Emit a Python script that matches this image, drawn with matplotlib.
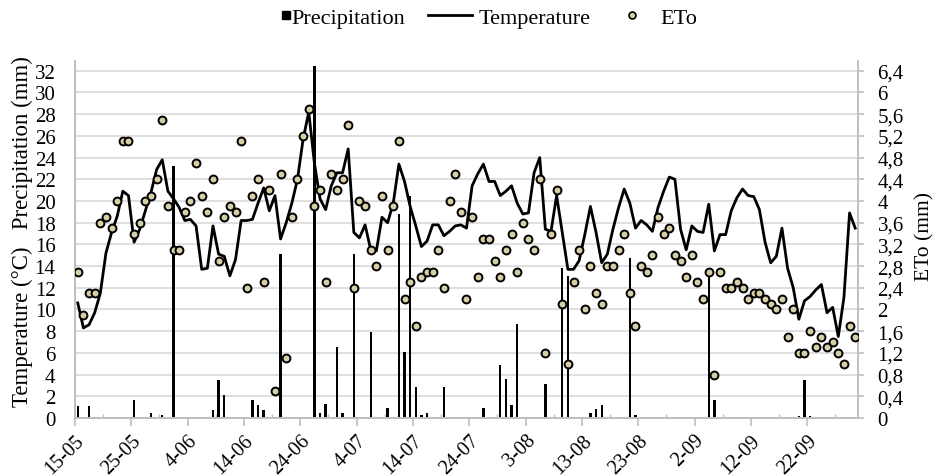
import numpy as np
import matplotlib
matplotlib.use('Agg')
import matplotlib.pyplot as plt
from matplotlib.lines import Line2D

plt.rcParams['font.family'] = ['Liberation Serif', 'DejaVu Serif']

# daily values, 15-05 .. 30-09
temperature = [
    10.6, 8.3, 8.6, 9.7, 11.5, 15.2, 17.1, 18.6, 20.9, 20.5,
    16.2, 17.4, 19.1, 20.8, 22.9, 23.8, 20.9, 20.2, 19.4, 18.2,
    18.3, 17.7, 13.7, 13.8, 17.7, 15.1, 14.9, 13.1, 14.6, 18.2,
    18.2, 18.3, 19.8, 21.2, 19.1, 20.5, 16.5, 18.0, 19.8, 22.0,
    25.7, 28.2, 23.5, 20.2, 19.2, 21.4, 22.6, 22.6, 24.8, 17.1,
    16.6, 17.8, 15.5, 15.4, 18.5, 18.0, 19.8, 23.4, 21.8, 19.5,
    17.7, 15.8, 16.3, 17.8, 17.8, 16.8, 17.2, 17.7, 17.8, 17.5,
    21.4, 22.5, 23.4, 21.8, 21.8, 20.5, 20.9, 21.4, 19.8, 18.8,
    18.9, 22.6, 24.0, 17.4, 17.2, 20.5, 17.1, 13.7, 13.7, 14.5,
    16.9, 19.5, 17.1, 14.3, 15.1, 17.4, 19.4, 21.1, 19.8, 17.5,
    18.2, 17.8, 17.2, 19.4, 20.9, 22.2, 22.0, 17.4, 15.5, 17.7,
    17.2, 17.1, 19.7, 15.4, 16.9, 16.9, 19.1, 20.3, 21.1, 20.5,
    20.4, 19.2, 16.2, 14.3, 14.9, 17.5, 13.8, 12.0, 9.1, 10.8,
    11.2, 11.8, 12.3, 9.7, 10.2, 7.5, 11.1, 18.9, 17.5]

eto = [
    2.7, 1.9, 2.3, 2.3, 3.6, 3.7, 3.5, 4.0, 5.1, 5.1,
    3.4, 3.6, 4.0, 4.1, 4.4, 5.5, 3.9, 3.1, 3.1, 3.8,
    4.0, 4.7, 4.1, 3.8, 4.4, 2.9, 3.7, 3.9, 3.8, 5.1,
    2.4, 4.1, 4.4, 2.5, 4.2, 0.5, 4.5, 1.1, 3.7, 4.4,
    5.2, 5.7, 3.9, 4.2, 2.5, 4.5, 4.2, 4.4, 5.4, 2.4,
    4.0, 3.9, 3.1, 2.8, 4.1, 3.1, 3.9, 5.1, 2.2, 2.5,
    1.7, 2.6, 2.7, 2.7, 3.1, 2.4, 4.0, 4.5, 3.8, 2.2,
    3.7, 2.6, 3.3, 3.3, 2.9, 2.6, 3.1, 3.4, 2.7, 3.6,
    3.3, 3.1, 4.4, 1.2, 3.4, 4.2, 2.1, 1.0, 2.5, 3.1,
    2.0, 2.8, 2.3, 2.1, 2.8, 2.8, 3.1, 3.4, 2.3, 1.7,
    2.8, 2.7, 3.0, 3.7, 3.4, 3.5, 3.0, 2.9, 2.6, 3.0,
    2.5, 2.2, 2.7, 0.8, 2.7, 2.4, 2.4, 2.5, 2.4, 2.2,
    2.3, 2.3, 2.2, 2.1, 2.0, 2.2, 1.5, 2.0, 1.2, 1.2,
    1.6, 1.3, 1.5, 1.3, 1.4, 1.2, 1.0, 1.7, 1.5]

# rainy days (day index from 15-05) and amount in mm
rain_day = [0, 2, 3, 10, 11, 13, 15, 17, 24, 25, 26, 31, 32, 33, 36, 42, 43, 44,
            46, 47, 49, 52, 53, 55, 57, 58, 59, 60, 61, 62, 63, 65, 72, 75, 76,
            77, 78, 81, 83, 86, 87, 91, 92, 93, 98, 99, 112, 113, 118, 123, 128,
            129, 130, 134]
rain_mm = [1.1, 1.1, 0.1, 1.7, 0.1, 0.5, 0.3, 23.2, 0.7, 3.5, 2.1, 1.7, 1.2, 0.7,
           15.1, 32.4, 0.5, 1.3, 6.5, 0.5, 15.1, 7.9, 0.1, 0.9, 18.8, 6.1, 20.5,
           2.9, 0.3, 0.5, 0.1, 2.9, 0.9, 4.9, 3.6, 1.2, 8.7, 0.1, 3.1, 13.8, 13.1,
           0.5, 0.8, 1.2, 14.7, 0.3, 13.4, 1.7, 0.1, 0.1, 0.2, 3.5, 0.2, 0.1]

date_labels = ['15-05', '25-05', '4-06', '14-06', '24-06', '4-07', '14-07',
               '24-07', '3-08', '13-08', '23-08', '2-09', '12-09', '22-09']

n = len(temperature)
precipitation = np.zeros(n)
precipitation[rain_day] = rain_mm
x = np.arange(n) + 0.5

grey = '#bfbfbf'
tan = '#d6cea4'
W, H = 937, 477
fig = plt.figure(figsize=(W / 100, H / 100), dpi=100)
ax = fig.add_axes([0.080, 0.1216, 0.8357, 0.7484])

ax.bar(x, precipitation, width=0.42, color='black', zorder=2)
ax.plot(x, temperature, color='black', linewidth=2.0, zorder=3)

ax.set_xlim(0, n)
ax.set_ylim(0, 32.9)
ax.set_yticks(range(0, 33, 2))
ax.set_xticks(np.arange(0, 131, 10))
ax.set_xticks(np.arange(5, 136, 10), minor=True)
ax.set_xticklabels(date_labels, rotation=45, ha='right', rotation_mode='anchor')
ax.grid(axis='y', color='#d9d9d9', linewidth=1.2)
ax.set_axisbelow(True)

ax.tick_params(axis='y', direction='out', length=0, labelsize=15, pad=14)
ax.tick_params(axis='x', which='major', direction='out', length=6, color=grey,
               width=1.2, labelsize=14.5, pad=3)
ax.tick_params(axis='x', which='minor', direction='in', length=3, color=grey, width=1)
ax.set_ylabel('Temperature (°C)   Precipitation (mm)', fontsize=16.5)
ax.yaxis.set_label_coords(-0.054, 0.525)

ax2 = ax.twinx()
ax2.scatter(x, eto, s=32, facecolor=tan, edgecolor='black', linewidth=1.4, zorder=4)
ax2.set_ylim(0, 6.58)
eto_ticks = np.arange(0, 6.41, 0.4)
ax2.set_yticks(eto_ticks)
ax2.set_yticklabels([str(int(round(v))) if abs(v - round(v)) < 1e-6
                     else f'{v:.1f}'.replace('.', ',') for v in eto_ticks])
ax2.tick_params(axis='y', direction='out', length=4, color=grey, width=1.2,
                labelsize=15, pad=10)
ax2.set_ylabel('ETo (mm)', fontsize=15.5)
ax2.yaxis.set_label_coords(1.073, 0.51)

for a in (ax, ax2):
    a.spines['top'].set_visible(False)
    for s in ('left', 'right', 'bottom'):
        a.spines[s].set_color(grey)
        a.spines[s].set_linewidth(1.2)

# legend: three pieces placed like the Excel legend row
legend_kw = dict(loc='upper left', frameon=False, fontsize=16, borderpad=0,
                 borderaxespad=0)
top = 1 - 8 / H
fig.legend([Line2D([], [], color='black', marker='s', linestyle='none', markersize=6)],
           ['Precipitation'], bbox_to_anchor=(280 / W, top),
           handlelength=0.5, handletextpad=0.0, **legend_kw)
fig.legend([Line2D([], [], color='black', linewidth=2.0)],
           ['Temperature'], bbox_to_anchor=(428 / W, top),
           handlelength=2.0, handletextpad=0.27, **legend_kw)
fig.legend([Line2D([], [], color='none', marker='o', markerfacecolor=tan,
                   markeredgecolor='black', markeredgewidth=1.2, markersize=5)],
           ['ETo'], bbox_to_anchor=(626 / W, top),
           handlelength=0.55, handletextpad=1.0, **legend_kw)

fig.savefig('out.png', dpi=100)
plt.close(fig)
